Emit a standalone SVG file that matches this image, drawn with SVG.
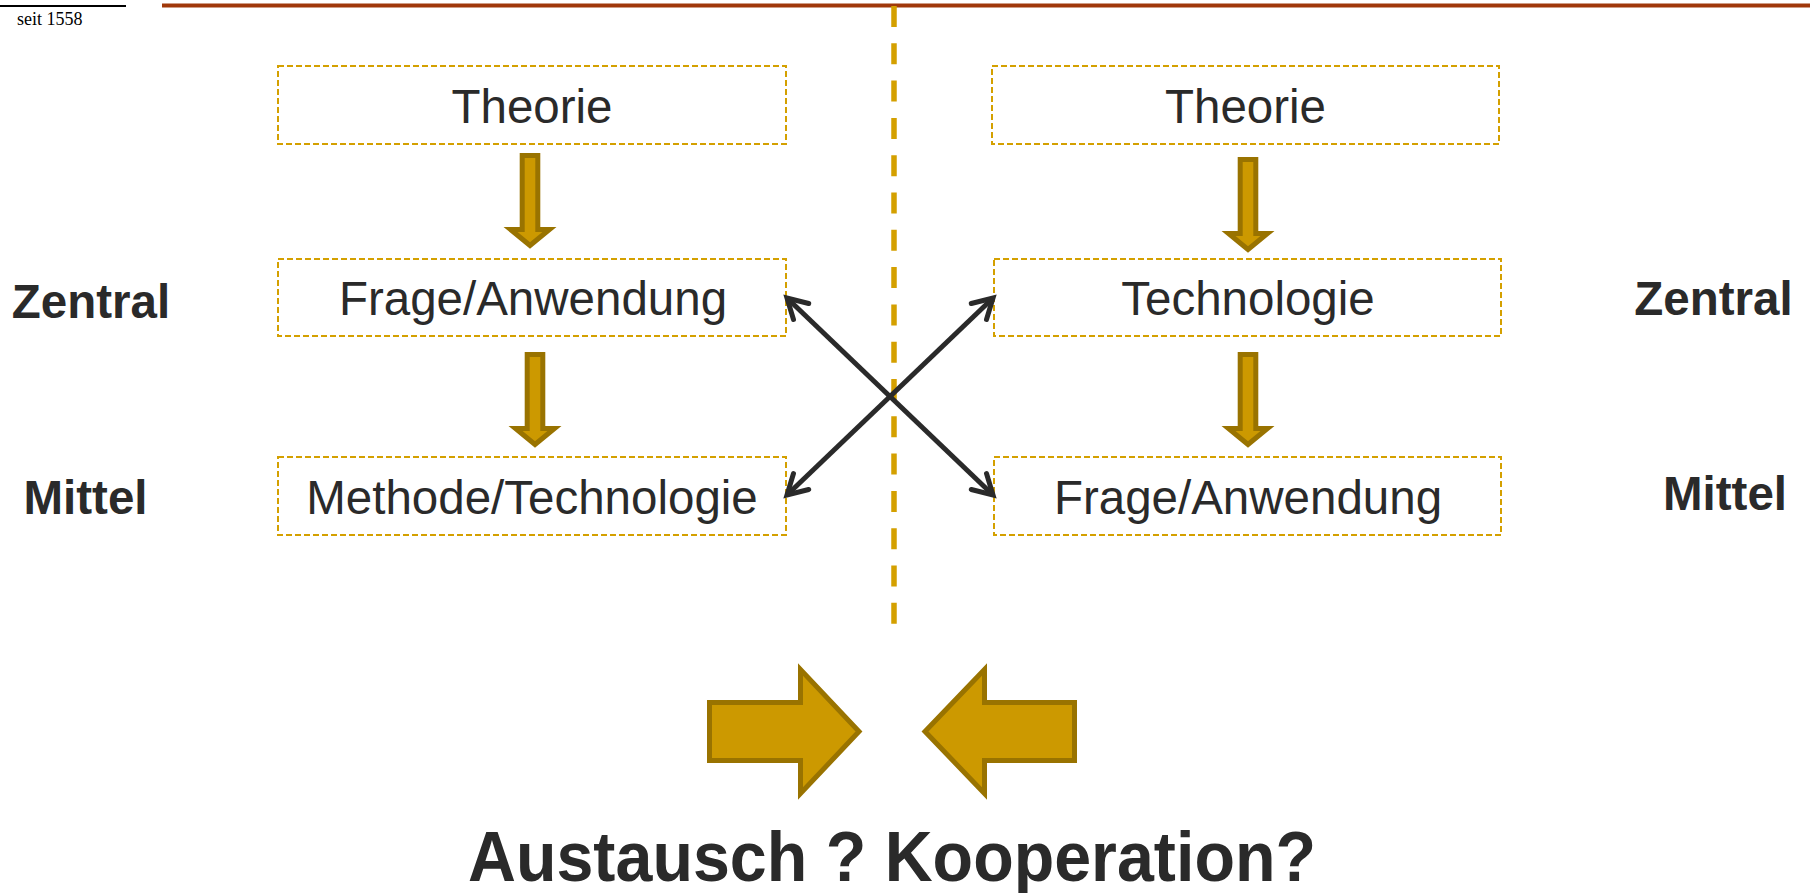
<svg xmlns="http://www.w3.org/2000/svg" width="1810" height="893" viewBox="0 0 1810 893">
  <style>
    .box { fill: #ffffff; stroke: #D4A000; stroke-width: 2; stroke-dasharray: 6 3; }
    .lbl { font-family: "Liberation Sans", Arial, sans-serif; font-size: 47.5px; fill: #2a2a2a; text-anchor: middle; }
    .side { font-family: "Liberation Sans", Arial, sans-serif; font-size: 47.5px; font-weight: bold; fill: #2a2a2a; text-anchor: middle; }
    .flow { fill: #CC9900; stroke: #997300; stroke-width: 5; stroke-linejoin: miter; }
    .link { fill: none; stroke: #2a2a2a; stroke-width: 5; marker-start: url(#chev); marker-end: url(#chev); }
  </style>
  <defs>
    <marker id="chev" markerUnits="userSpaceOnUse" viewBox="0 0 28 28" markerWidth="28" markerHeight="28" refX="23" refY="14" orient="auto-start-reverse">
      <path d="M3.5,3 L23,14 L3.5,25" fill="none" stroke="#2a2a2a" stroke-width="5" stroke-linecap="round" stroke-linejoin="miter"/>
    </marker>
    <!-- downward block arrow, drawn from its top edge -->
    <path id="down" class="flow" d="M-7.8,2.5 H7.8 V76.5 H19.5 L0,92.5 L-19.5,76.5 H-7.8 Z"/>
  </defs>

  <!-- header rules and year mark -->
  <g id="header">
    <line x1="0" y1="6" x2="126" y2="6" stroke="#000000" stroke-width="2"/>
    <line x1="162" y1="5.5" x2="1810" y2="5.5" stroke="#A0380A" stroke-width="4"/>
    <text x="17" y="25" font-family="'Liberation Serif', 'Times New Roman', serif" font-size="18" fill="#000000">seit 1558</text>
  </g>

  <!-- dividing line between the two models -->
  <line id="divider" x1="894" y1="6" x2="894" y2="624" stroke="#D4A000" stroke-width="5.5" stroke-dasharray="21 16.3"/>

  <!-- left column -->
  <g id="left-theorie">
    <rect class="box" x="278" y="66" width="508" height="78"/>
    <text class="lbl" x="532" y="123">Theorie</text>
  </g>
  <g id="left-frage">
    <rect class="box" x="278" y="259" width="508" height="77"/>
    <text class="lbl" x="533" y="315">Frage/Anwendung</text>
  </g>
  <g id="left-methode">
    <rect class="box" x="278" y="457" width="508" height="78"/>
    <text class="lbl" x="532" y="514">Methode/Technologie</text>
  </g>

  <!-- right column -->
  <g id="right-theorie">
    <rect class="box" x="992" y="66" width="507" height="78"/>
    <text class="lbl" x="1245.5" y="123">Theorie</text>
  </g>
  <g id="right-technologie">
    <rect class="box" x="994" y="259" width="507" height="77"/>
    <text class="lbl" x="1248" y="315">Technologie</text>
  </g>
  <g id="right-frage">
    <rect class="box" x="994" y="457" width="507" height="78"/>
    <text class="lbl" x="1248" y="514">Frage/Anwendung</text>
  </g>

  <!-- row labels -->
  <g id="labels">
    <text class="side" x="91" y="318">Zentral</text>
    <text class="side" x="85.5" y="514">Mittel</text>
    <text class="side" x="1713.5" y="315">Zentral</text>
    <text class="side" x="1725" y="510">Mittel</text>
  </g>

  <!-- connectors -->
  <g id="connectors">
    <use href="#down" x="530" y="153"/>
    <use href="#down" x="535" y="352"/>
    <use href="#down" x="1248" y="157"/>
    <use href="#down" x="1248" y="352"/>
    <line class="link" x1="787" y1="298" x2="993" y2="495"/>
    <line class="link" x1="787" y1="495" x2="993" y2="298"/>
  </g>

  <!-- converging arrows and question -->
  <g id="exchange">
    <path class="flow" d="M709.5,702.5 H800.5 V669.5 L859,731.5 L800.5,793.5 V760.5 H709.5 Z"/>
    <path class="flow" d="M1074.5,702.5 H984.5 V669.5 L925,731.5 L984.5,793.5 V760.5 H1074.5 Z"/>
    <text x="892" y="881" font-family="'Liberation Sans', Arial, sans-serif" font-size="71" font-weight="bold" fill="#2a2a2a" text-anchor="middle" textLength="848" lengthAdjust="spacingAndGlyphs">Austausch ? Kooperation?</text>
  </g>
</svg>
